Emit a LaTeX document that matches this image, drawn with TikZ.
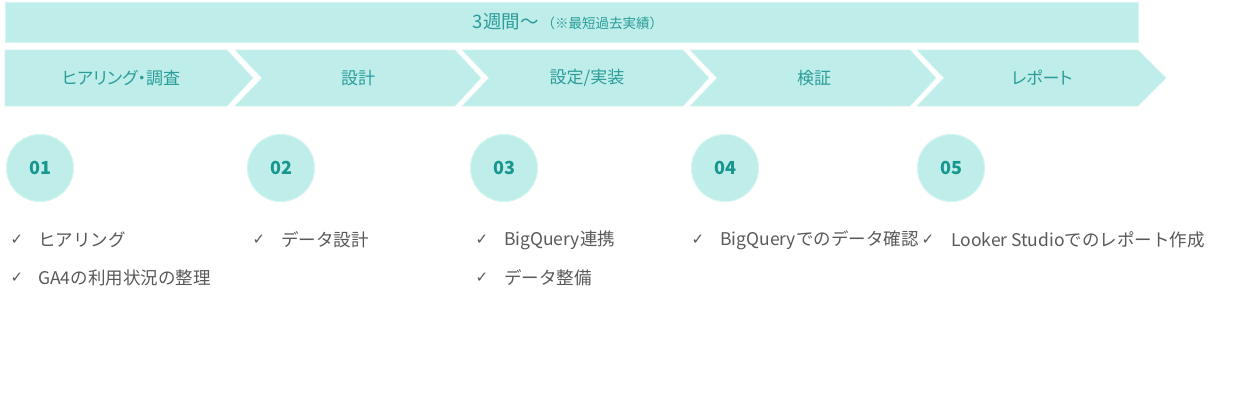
\documentclass[tikz,border=0pt]{standalone}
\usepackage{fontspec}
\setmainfont{Noto Sans CJK JP}
\newfontfamily\paltfont[RawFeature=+palt]{Noto Sans CJK JP}
\newfontfamily\symfont{DejaVu Sans}
\definecolor{fillteal}{HTML}{BFEDE9}
\definecolor{edgeteal}{HTML}{D4F5F2}
\definecolor{txteal}{HTML}{2A9D9A}
\definecolor{numteal}{HTML}{17978F}
\definecolor{txgray}{HTML}{595959}
\begin{document}
\begin{tikzpicture}[x=1pt,y=-1pt,
  band/.style={fill=fillteal, draw=edgeteal, line width=0.6pt},
  chevtext/.style={text=txteal, font=\fontsize{17}{19}\selectfont, inner sep=0pt},
  numcircle/.style={circle, fill=fillteal, draw=edgeteal, line width=1pt, minimum size=67pt, inner sep=0pt,
    text=numteal, font=\fontsize{18}{20}\selectfont\bfseries},
  tick/.style={text=txgray, font=\symfont\fontsize{15}{17}\selectfont, inner sep=0pt},
  item/.style={text=txgray, font=\fontsize{17.5}{19}\selectfont, anchor=west, inner sep=0pt}]
\useasboundingbox (0,0) rectangle (1246,408);
\fill[white] (0,0) rectangle (1246,408);
% top band
\path[band] (5,2) rectangle (1138,42);
\node[text=txteal, inner sep=0pt] (period) at (568,22)
  {{\fontsize{18.5}{20}\selectfont 3週間〜}\hspace{3pt}{\fontsize{13.5}{15}\selectfont （※最短過去実績）}};
% chevrons
\path[band] (5,50) -- (227,50) -- (253,78) -- (227,106) -- (5,106) -- cycle;
\path[band] (235,50) -- (455,50) -- (481,78) -- (455,106) -- (235,106) -- (262,78) -- cycle;
\path[band] (462,50) -- (683,50) -- (709,78) -- (683,106) -- (462,106) -- (489,78) -- cycle;
\path[band] (690,50) -- (910,50) -- (936,78) -- (910,106) -- (690,106) -- (717,78) -- cycle;
\path[band] (917,50) -- (1138,50) -- (1166,78) -- (1138,106) -- (917,106) -- (944,78) -- cycle;
\node[chevtext, font=\paltfont\fontsize{17}{19}\selectfont] (c1) at (121,78) {ヒアリング・調査};
\node[chevtext] (c2) at (358,78) {設計};
\node[chevtext] (c3) at (587,78) {設定/実装};
\node[chevtext] (c4) at (814,78) {検証};
\node[chevtext, font=\paltfont\fontsize{17}{19}\selectfont] (c5) at (1042,78) {レポート};
% circles
\node[numcircle] (n1) at (40,168) {01};
\node[numcircle] (n2) at (281,168) {02};
\node[numcircle] (n3) at (504,168) {03};
\node[numcircle] (n4) at (725,168) {04};
\node[numcircle] (n5) at (951,168) {05};
% items
\node[tick] (t1a) at (17,240) {✓};
\node[item] (i1a) at (38,240) {ヒアリング};
\node[tick] (t1b) at (17,278) {✓};
\node[item] (i1b) at (38,278) {GA4の利用状況の整理};
\node[tick] (t2a) at (259,240) {✓};
\node[item] (i2a) at (281,240) {データ設計};
\node[tick] (t3a) at (482,240) {✓};
\node[item] (i3a) at (504,240) {BigQuery連携};
\node[tick] (t3b) at (482,278) {✓};
\node[item] (i3b) at (504,278) {データ整備};
\node[tick] (t4a) at (698,240) {✓};
\node[item] (i4a) at (720,240) {BigQueryでのデータ確認};
\node[tick] (t5a) at (928,240) {✓};
\node[item] (i5a) at (951,240) {Looker Studioでのレポート作成};
\end{tikzpicture}
\end{document}
